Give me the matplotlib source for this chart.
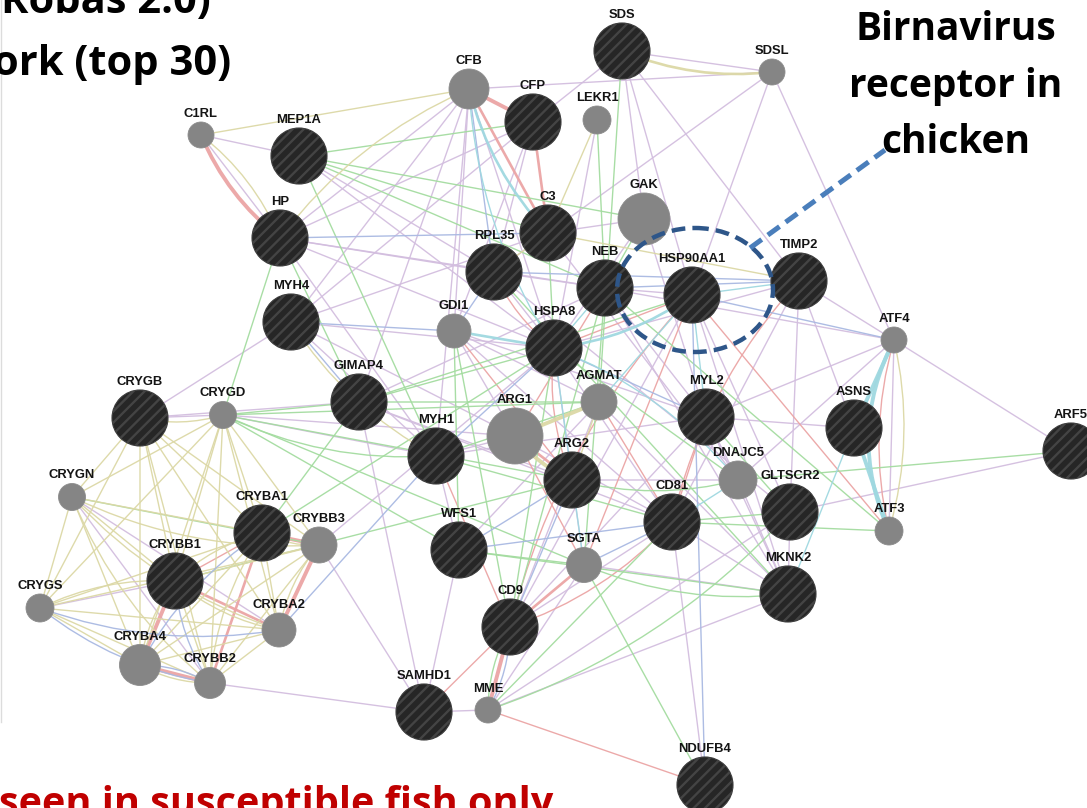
import itertools
from collections import Counter

import numpy as np
import matplotlib.pyplot as plt
from matplotlib.patches import Circle, Ellipse, FancyArrowPatch

# --- network layout (pixel space of the slide) -------------------------------
genes = ["SDS", "SDSL", "CFB", "CFP", "LEKR1", "C1RL", "MEP1A", "C3", "GAK",
         "HP", "RPL35", "NEB", "HSP90AA1", "TIMP2", "MYH4", "GDI1", "HSPA8",
         "ATF4", "GIMAP4", "CRYGB", "CRYGD", "AGMAT", "MYL2", "ASNS", "ARF5",
         "MYH1", "ARG1", "ARG2", "DNAJC5", "GLTSCR2", "ATF3", "CRYGN",
         "CRYBA1", "CRYBB3", "WFS1", "CD81", "SGTA", "CRYBB1", "CRYGS",
         "MKNK2", "CRYBA2", "CD9", "CRYBA4", "CRYBB2", "SAMHD1", "MME",
         "NDUFB4"]
node_x = [622, 772, 469, 533, 597, 201, 299, 548, 644,
          280, 494, 605, 692, 799, 291, 454, 554,
          894, 359, 140, 223, 599, 706, 854, 1071,
          436, 515, 572, 738, 790, 889, 72,
          262, 319, 459, 672, 584, 175, 40,
          788, 279, 510, 140, 210, 424, 488,
          705]
node_y = [51, 72, 89, 122, 120, 135, 156, 233, 219,
          238, 272, 288, 295, 281, 322, 331, 348,
          340, 402, 418, 415, 402, 417, 428, 451,
          456, 436, 480, 480, 512, 531, 497,
          533, 545, 550, 522, 565, 581, 608,
          594, 630, 627, 665, 683, 712, 710,
          785]
# node radius reflects the gene score
node_r = [28, 13, 20, 28, 14, 13, 28, 28, 26,
          28, 28, 28, 28, 28, 28, 17, 28,
          13, 28, 28, 13.5, 18, 28, 28, 28,
          28, 28, 28, 19, 28, 14, 13.5,
          28, 18, 28, 28, 17.5, 28, 14,
          28, 17, 28, 20.5, 15.5, 28, 13,
          28]
query_genes = {"SDS", "CFP", "MEP1A", "C3", "HP", "RPL35", "NEB", "HSP90AA1",
               "TIMP2", "MYH4", "HSPA8", "GIMAP4", "CRYGB", "MYL2", "ASNS",
               "ARF5", "MYH1", "ARG2", "GLTSCR2", "CRYBA1", "WFS1", "CD81",
               "CRYBB1", "MKNK2", "CD9", "SAMHD1", "NDUFB4"}

crystallins = ["CRYGB", "CRYGD", "CRYGN", "CRYBA1", "CRYBB3", "CRYBB1",
               "CRYGS", "CRYBA2", "CRYBA4", "CRYBB2"]

# edges: (gene, gene[, weight])
coexpression = [
    ("CFB", "SDSL"), ("SDS", "SDSL"), ("CFP", "SDS"), ("SDS", "GAK"),
    ("SDS", "TIMP2"), ("SDS", "HSP90AA1"), ("SDSL", "HSP90AA1"),
    ("SDSL", "RPL35"), ("SDSL", "ATF4"), ("LEKR1", "HSPA8"), ("C1RL", "MEP1A"),
    ("C1RL", "HP"), ("CFB", "HP"), ("CFB", "MYH4"), ("CFB", "GIMAP4"),
    ("CFB", "GDI1"), ("CFB", "HSPA8"), ("CFB", "MYH1"), ("CFP", "RPL35"),
    ("CFP", "HP"), ("CFP", "MYH4"), ("CFP", "GDI1"), ("MEP1A", "RPL35"),
    ("MEP1A", "HSPA8"), ("HP", "RPL35"), ("HP", "HSPA8"), ("HP", "NEB"),
    ("HP", "MYH1"), ("MYH4", "HSPA8"), ("MYH4", "MYH1"), ("MYH4", "C3"),
    ("MYH4", "ARG1"), ("CRYGB", "MYH4"), ("CRYGB", "GIMAP4"),
    ("CRYGB", "CRYGD"), ("CRYGD", "MYH1"), ("CRYGD", "ARG1"),
    ("CRYGN", "CRYBB2"), ("CRYGS", "CRYBB1"), ("CRYGN", "CRYBA2"),
    ("CRYBB2", "SAMHD1"), ("CRYBB3", "HSPA8"), ("GDI1", "ARG1"),
    ("GDI1", "MYL2"), ("GDI1", "CD81"), ("GDI1", "AGMAT"), ("GIMAP4", "ARG2"),
    ("GIMAP4", "CD81"), ("GIMAP4", "NEB"), ("MYH1", "ARG1"), ("MYH1", "WFS1"),
    ("MYH1", "MYL2"), ("RPL35", "NEB"), ("RPL35", "GLTSCR2"),
    ("RPL35", "HSPA8"), ("C3", "GAK"), ("C3", "DNAJC5"), ("NEB", "HSP90AA1"),
    ("NEB", "ATF4"), ("NEB", "MYL2"), ("NEB", "MKNK2"), ("HSP90AA1", "MKNK2"),
    ("HSP90AA1", "GLTSCR2"), ("HSP90AA1", "CD9"), ("TIMP2", "ATF4"),
    ("TIMP2", "ASNS"), ("TIMP2", "GLTSCR2"), ("TIMP2", "CD81"),
    ("TIMP2", "HSPA8"), ("ATF4", "MYL2"), ("ATF4", "DNAJC5"), ("ATF4", "ARF5"),
    ("ATF4", "ATF3"), ("ARF5", "GLTSCR2"), ("MYL2", "ASNS"),
    ("MYL2", "DNAJC5"), ("MYL2", "MKNK2"), ("MYL2", "CD9"),
    ("DNAJC5", "MKNK2"), ("DNAJC5", "ARG2"), ("GLTSCR2", "MKNK2"),
    ("CD81", "NDUFB4"), ("CD81", "MKNK2"), ("CD81", "HSPA8"),
    ("AGMAT", "MKNK2"), ("AGMAT", "CD9"), ("SGTA", "MKNK2"), ("SGTA", "MME"),
    ("WFS1", "AGMAT"), ("WFS1", "SAMHD1"), ("MME", "SAMHD1"),
    ("MME", "MKNK2"), ("MME", "GLTSCR2"), ("CD9", "CD81"),
    ("SAMHD1", "GIMAP4"), ("SAMHD1", "CRYBB3"), ("HSPA8", "ARG2"),
    ("ARG2", "SGTA"), ("ARG1", "CD81"), ("GAK", "MYL2"), ("GAK", "HSPA8"),
]
physical = [
    ("C1RL", "HP", 3), ("CFB", "CFP", 3), ("CFB", "C3", 2), ("CFP", "C3", 2),
    ("GDI1", "ARG2"), ("HSPA8", "HSP90AA1"), ("HSPA8", "ARG2"),
    ("HSP90AA1", "ATF3"), ("HSP90AA1", "CD9"), ("HSP90AA1", "SGTA"),
    ("NEB", "ARG1"), ("ATF4", "ATF3"), ("AGMAT", "CD81"), ("ARG1", "ARG2", 2),
    ("ARG1", "SGTA"), ("CD9", "SGTA", 2), ("CD9", "CD81"), ("CD9", "MME", 3),
    ("CD9", "SAMHD1"), ("CD9", "MYH1"), ("MME", "NDUFB4"),
    ("CRYBB1", "CRYBA4", 3), ("CRYBA1", "CRYBB2", 2), ("CRYBB1", "CRYBA2", 2),
    ("CRYBA1", "CRYBB3", 3), ("CRYBB3", "CRYBA2", 3), ("CRYBA4", "CRYBB2", 3),
    ("CRYBA1", "CRYBB1"), ("MYL2", "CD81"), ("TIMP2", "CD81"),
    ("RPL35", "HSPA8"),
]
genetic = [
    ("MEP1A", "CFP"), ("MEP1A", "GAK"), ("MEP1A", "NEB"), ("MEP1A", "MYH1"),
    ("MEP1A", "C3"), ("HP", "CRYGD"), ("HP", "GIMAP4"), ("SDS", "AGMAT"),
    ("LEKR1", "NEB"), ("GIMAP4", "HSPA8"), ("GIMAP4", "AGMAT"),
    ("GIMAP4", "HSP90AA1"), ("MYH1", "AGMAT"), ("MYH1", "CD81"),
    ("CRYGD", "MYH1"), ("CRYGD", "GIMAP4"), ("CRYGD", "ARG2"),
    ("CRYGD", "WFS1"), ("CRYGD", "SGTA"), ("CRYGD", "AGMAT"),
    ("CRYGN", "CRYBB3"), ("CRYBB1", "ARG2"), ("CRYBA1", "GIMAP4"),
    ("CRYBA1", "HSPA8"), ("NEB", "ATF3"), ("NEB", "SGTA"), ("ARF5", "DNAJC5"),
    ("CD81", "GLTSCR2"), ("CD81", "ATF3"), ("SGTA", "NDUFB4"),
    ("SGTA", "MKNK2"), ("WFS1", "SGTA"), ("WFS1", "MKNK2"), ("WFS1", "GDI1"),
    ("MME", "CD81"), ("MME", "GLTSCR2"), ("CD9", "HSPA8"), ("CD9", "MME"),
    ("CD9", "NEB"), ("ARG2", "DNAJC5"), ("MYL2", "GLTSCR2"),
    ("HSPA8", "DNAJC5"), ("GDI1", "CD9"), ("C3", "HSPA8"), ("GAK", "NEB"),
    ("RPL35", "MKNK2"),
]
shared_domains = [(a, b) for a, b in itertools.combinations(crystallins, 2)] + [
    ("C1RL", "HP"), ("C1RL", "CFB"), ("CFB", "HP"), ("SDS", "SDSL", 2),
    ("LEKR1", "C3"), ("C3", "TIMP2"), ("C3", "RPL35"), ("ARG1", "AGMAT", 3),
    ("ARG1", "ARG2", 3), ("ARG2", "AGMAT"), ("ATF4", "ATF3"), ("MYH4", "MYH1"),
]
colocalization = [
    ("HP", "C3"), ("MYH4", "GDI1"), ("MYH4", "GIMAP4"), ("CFB", "RPL35"),
    ("NEB", "TIMP2"), ("HSP90AA1", "ATF4"), ("HSP90AA1", "NDUFB4"),
    ("WFS1", "CD81"), ("WFS1", "ARG2"), ("CD9", "ARG2"), ("CD9", "MME"),
    ("CRYGS", "CRYBA2"), ("CRYGS", "CRYBB2"), ("CRYBA4", "CRYBB2"),
    ("CRYBB1", "CRYBB2"), ("CRYBA1", "CRYBA4"), ("CRYBA2", "MYH1"),
    ("MYH1", "HSPA8"), ("RPL35", "TIMP2"), ("GDI1", "RPL35"),
    ("SGTA", "CD81"), ("MYL2", "HSPA8"),
]
pathway = [
    ("CFB", "C3", 2), ("GDI1", "HSPA8", 2), ("HSPA8", "HSP90AA1", 2),
    ("NEB", "HSPA8"), ("ATF4", "ASNS", 3), ("ATF4", "ATF3", 3),
    ("ASNS", "ATF3", 3), ("ASNS", "MKNK2"), ("HSPA8", "SGTA"),
    ("HSP90AA1", "MYL2"), ("DNAJC5", "HSPA8"), ("DNAJC5", "CD81"),
    ("TIMP2", "HSP90AA1"), ("AGMAT", "HSP90AA1"), ("CFB", "HSPA8"),
]

edge_colors = {
    "coexpression": "#d3bedf",
    "physical": "#eba5a5",
    "genetic": "#a4dca0",
    "shared_domains": "#dcd8a6",
    "colocalization": "#a9b9e2",
    "pathway": "#9fd8e0",
}
networks = {
    "coexpression": coexpression,
    "physical": physical,
    "genetic": genetic,
    "shared_domains": shared_domains,
    "colocalization": colocalization,
    "pathway": pathway,
}

W, H = 1087, 808
fig = plt.figure(figsize=(W / 100, H / 100), dpi=100)
ax = fig.add_axes([0, 0, 1, 1])
ax.set_xlim(0, W)
ax.set_ylim(H, 0)
ax.axis("off")

pos = {g: (x, y) for g, x, y in zip(genes, node_x, node_y)}

# --- edges: parallel links between one pair are bent apart -----------------
all_edges = []
for kind, lst in networks.items():
    for e in lst:
        w = e[2] if len(e) > 2 else 1
        all_edges.append((kind, e[0], e[1], w))

pair_total = Counter(frozenset((a, b)) for _, a, b, _ in all_edges)
pair_seen = Counter()
bends = [0.0, 0.13, -0.13, 0.24, -0.24, 0.33, -0.33]
for kind, a, b, w in all_edges:
    key = frozenset((a, b))
    k = pair_seen[key]
    pair_seen[key] += 1
    rad = 0.0 if pair_total[key] == 1 else bends[k % len(bends)]
    arc = FancyArrowPatch(pos[a], pos[b], arrowstyle="-",
                          connectionstyle=f"arc3,rad={rad}",
                          color=edge_colors[kind], lw=1.0 + 0.9 * (w - 1),
                          shrinkA=0, shrinkB=0, zorder=1, alpha=0.95)
    ax.add_patch(arc)

# --- nodes -------------------------------------------------------------------
for g, x, y, r in zip(genes, node_x, node_y, node_r):
    if g in query_genes:
        circ = Circle((x, y), r, fc="#262626", ec="#3c3c3c", lw=0.8, zorder=3)
        ax.add_patch(circ)
        # diagonal stripe texture
        for s in np.arange(-2 * r, 2 * r, 11.3):
            ln, = ax.plot([x - r * 1.3, x + r * 1.3],
                          [y + s + r * 1.3, y + s - r * 1.3],
                          color="#444444", lw=1.7, zorder=4,
                          solid_capstyle="butt")
            ln.set_clip_path(circ)
    else:
        ax.add_patch(Circle((x, y), r, fc="#858585", ec="#8c8c8c", lw=0.6,
                            zorder=3))
    ax.text(x, y - r - 2, g, ha="center", va="bottom", fontsize=9.4,
            fontweight="bold", family="Liberation Sans", color="#141414",
            zorder=5)

# --- highlight around HSP90AA1 ------------------------------------------------
ax.add_patch(Ellipse((695, 290), 156, 124, fill=False, ec="#2e5689", lw=3.2,
                     linestyle=(0, (3.1, 1.6)), zorder=6))
ax.plot([750, 885], [248, 150], color="#4a7ebb", lw=3.6,
        linestyle=(0, (2.9, 1.5)), zorder=6)

# --- slide text ----------------------------------------------------------------
title_font = dict(family="Open Sans", fontweight="bold")
ax.text(211, 13, "(Robas 2.0)", ha="right", va="baseline", fontsize=30,
        color="black", **title_font)
ax.text(231, 75, "ork (top 30)", ha="right", va="baseline", fontsize=30,
        color="black", **title_font)
for line, base in zip(["Birnavirus", "receptor in", "chicken"], [40, 97, 153]):
    ax.text(956, base, line, ha="center", va="baseline", fontsize=28,
            color="black", **title_font)
ax.text(-1, 815, "seen in susceptible fish only", ha="left", va="baseline",
        fontsize=28.5, color="#c00000", **title_font)
ax.text(5, 279, "G", ha="right", va="baseline", fontsize=66, color="#2f5597",
        **title_font)
ax.plot([0.8, 0.8], [0, 722], color="#dcdcdc", lw=1)

fig.savefig("out.png", dpi=100)
plt.close(fig)
